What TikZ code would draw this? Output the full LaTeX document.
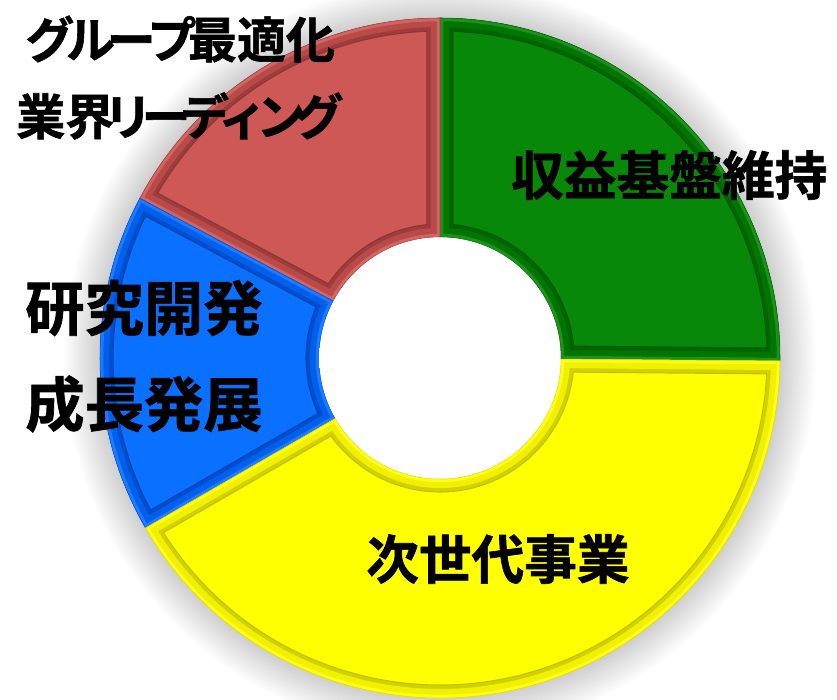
\documentclass[tikz,border=0pt]{standalone}
\usepackage{fontspec}
\newfontfamily\jpf{Noto Sans CJK JP}[BoldFont={Noto Sans CJK JP Bold},BoldFeatures={FakeBold=1.2}]
\definecolor{grbase}{RGB}{8,136,8}
\definecolor{grbev}{RGB}{0,118,0}
\definecolor{grline}{RGB}{0,80,0}
\definecolor{yebase}{RGB}{255,255,0}
\definecolor{yebev}{RGB}{240,240,0}
\definecolor{yeline}{RGB}{170,170,0}
\definecolor{blbase}{RGB}{10,112,255}
\definecolor{blbev}{RGB}{0,96,238}
\definecolor{blline}{RGB}{0,55,160}
\definecolor{rdbase}{RGB}{205,88,86}
\definecolor{rdbev}{RGB}{186,74,72}
\definecolor{rdline}{RGB}{120,45,45}
\pgfdeclareradialshading{holeshade}{\pgfpoint{0bp}{0bp}}{color(0bp)=(white); color(34bp)=(white); color(50bp)=(black!20)}
\def\RR{340}
\def\rr{121}
\def\dd{13}
\newcommand{\segpath}[2]{(#1:\RR) arc[start angle=#1,end angle=#2,radius=\RR] -- (#2:\rr) arc[start angle=#2,end angle=#1,radius=\rr] -- cycle}
\newcommand{\donutseg}[5]{%
  \pgfmathsetmacro\ea{asin(\dd/(\RR-\dd))}%
  \pgfmathsetmacro\eb{asin(\dd/(\rr+\dd))}%
  \pgfmathsetmacro\bwa{2*\dd*0.75}%
  \pgfmathsetmacro\bwb{1.4*\dd*0.75}%
  \pgfmathsetmacro\bwc{0.5*\dd*0.75}%
  \fill[#3] \segpath{#1}{#2};
  \begin{scope}
    \clip \segpath{#1}{#2};
    \draw[#5!45!#4, line width=\bwa pt] \segpath{#1}{#2};
    \draw[#4, line width=\bwb pt] \segpath{#1}{#2};
    \draw[#3!92!white, line width=\bwc pt] \segpath{#1}{#2};
  \end{scope}
  \filldraw[fill=#3, draw=#5!70!#4, line width=0.8pt]
    ({#1+\ea}:{\RR-\dd}) arc[start angle={#1+\ea}, end angle={#2-\ea}, radius={\RR-\dd}]
    -- ({#2-\eb}:{\rr+\dd}) arc[start angle={#2-\eb}, end angle={#1+\eb}, radius={\rr+\dd}] -- cycle;
  \draw[#4!70!#5, line width=0.4pt] \segpath{#1}{#2};
}
\tikzset{lbl/.style={anchor=west, inner sep=0pt, text=black, font=\bfseries}}
\newcommand{\kk}{\kern-0.17em}
\newcommand{\kt}{\kern-0.22em}
\begin{document}
\begin{tikzpicture}[x=0.75pt,y=0.75pt]
\fill[white] (0,0) rectangle (837,699);
\useasboundingbox (0,0) rectangle (837,699);
\begin{scope}[shift={(440,341)}]
  \foreach \k in {1,...,24} {\fill[black,opacity=0.008] (0,0) circle ({\RR+\k*1.5});}
  \donutseg{-0.5}{90}{grbase}{grbev}{grline}
  \donutseg{90}{152}{rdbase}{rdbev}{rdline}
  \donutseg{152}{210}{blbase}{blbev}{blline}
  \donutseg{210}{359.5}{yebase}{yebev}{yeline}
  \shade[shading=holeshade] (0,0) circle (\rr-0.3);
\end{scope}
\node[lbl, font=\jpf\bfseries\fontsize{36.75pt}{40pt}\selectfont] (t1) at (25,660) {グ\kk ル\kk ー\kk プ\kk 最適化};
\node[lbl, font=\jpf\bfseries\fontsize{36.75pt}{40pt}\selectfont] (t2) at (16,583) {業界\kt リ\kt ー\kt デ\kt ィ\kt ン\kt グ};
\node[lbl, font=\jpf\bfseries\fontsize{39.5pt}{42pt}\selectfont] (t3) at (511,524) {収益基盤維持};
\node[lbl, font=\jpf\bfseries\fontsize{44.5pt}{46pt}\selectfont] (t4) at (25,391) {研究開発};
\node[lbl, font=\jpf\bfseries\fontsize{44.5pt}{46pt}\selectfont] (t5) at (25,295) {成長発展};
\node[lbl, font=\jpf\bfseries\fontsize{39.5pt}{42pt}\selectfont] (t6) at (366,140) {次世代事業};
\end{tikzpicture}
\end{document}
